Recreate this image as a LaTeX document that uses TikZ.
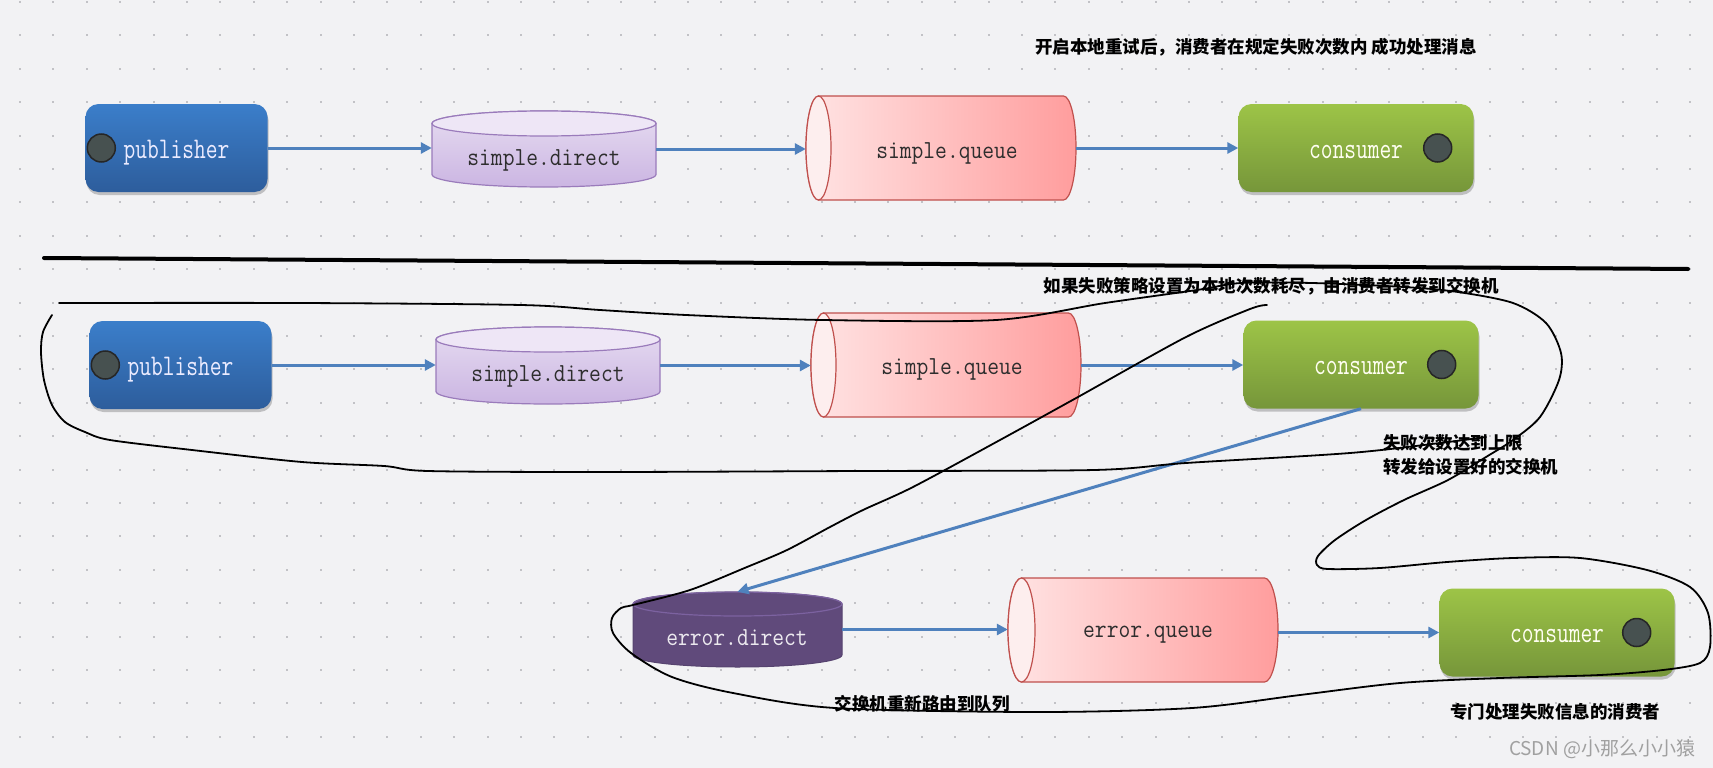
\documentclass[tikz,border=0pt]{standalone}
\usepackage{fontspec}
\usepackage{graphicx}
\newfontfamily\cjk{Noto Sans CJK SC}
\usetikzlibrary{arrows.meta,shadows}
\definecolor{bg}{HTML}{F2F2F4}
\definecolor{dotc}{HTML}{C2C2C6}
\definecolor{pubtop}{HTML}{3B7ECA}
\definecolor{pubbot}{HTML}{2D5D9C}
\definecolor{contop}{HTML}{9DC447}
\definecolor{conbot}{HTML}{76963A}
\definecolor{knobfill}{HTML}{475150}
\definecolor{flowc}{HTML}{4F81BD}
\definecolor{lavtopc}{HTML}{EEE6F6}
\definecolor{lavup}{HTML}{E6DCF1}
\definecolor{lavdown}{HTML}{CBB5E2}
\definecolor{lavedge}{HTML}{9A7BBB}
\definecolor{purc}{HTML}{604A7B}
\definecolor{puredge}{HTML}{7C62A0}
\definecolor{qleft}{HTML}{FFE4E4}
\definecolor{qright}{HTML}{FF9D9D}
\definecolor{qfacec}{HTML}{FDEEEE}
\definecolor{qedge}{HTML}{C0504D}
\definecolor{darktxt}{HTML}{2E2E2E}
\definecolor{wmgray}{HTML}{A0A0A0}

\newcommand\vcylshape[7]{%
  \path[#6] ({#1},{#3+#5}) -- ({#1},{#4-#5})
     arc[start angle=180,end angle=0,x radius={(#2-#1)/2},y radius=#5]
     -- ({#2},{#3+#5})
     arc[start angle=0,end angle=-180,x radius={(#2-#1)/2},y radius=#5] -- cycle;
  \path[#7] ({(#1+#2)/2},{#3+#5}) ellipse[x radius={(#2-#1)/2},y radius=#5];
}
\newcommand\hcylshape[7]{%
  \path[#6] ({#1+#5},{#3}) -- ({#2-#5},{#3})
     arc[start angle=-90,end angle=90,x radius=#5,y radius={(#4-#3)/2}]
     -- ({#1+#5},{#4})
     arc[start angle=90,end angle=270,x radius=#5,y radius={(#4-#3)/2}] -- cycle;
  \path[#7] ({#1+#5},{(#3+#4)/2}) ellipse[x radius=#5,y radius={(#4-#3)/2}];
}

\begin{document}
\begin{tikzpicture}[x=1pt,y=-1pt,
  box/.style={rounded corners=13pt, minimum height=88pt, inner sep=0pt,
    text height=24pt, text depth=4pt,
    drop shadow={shadow xshift=1pt, shadow yshift=-3pt, opacity=.3, fill=black!70},
    font=\fontsize{30}{30}\selectfont\ttfamily},
  pubbox/.style={box, minimum width=182pt, top color=pubtop, bottom color=pubbot, text=white!92!blue},
  conbox/.style={box, minimum width=235pt, top color=contop, bottom color=conbot, text=white!95!yellow},
  knob/.style={circle, minimum size=28pt, inner sep=0pt, fill=knobfill, draw=black!85, line width=1.5pt},
  flow/.style={draw=flowc, line width=3pt, -{Triangle[length=11pt,width=11pt]}},
  frame/.style 2 args={minimum width=#1pt, minimum height=#2pt, inner sep=0pt},
  darklbl/.style={inner sep=0pt, text=darktxt, font=\fontsize{26}{26}\selectfont\ttfamily},
  lightlbl/.style={inner sep=0pt, text=white!88!purc, font=\fontsize{26}{26}\selectfont\ttfamily},
  cn/.style={inner sep=0pt, font=\cjk\bfseries\fontsize{17.5}{21}\selectfont},
  wm/.style={inner sep=0pt, text=wmgray, font=\cjk\fontsize{19}{22}\selectfont},
  ink/.style={line width=1.8pt, black, line cap=round, line join=round},
  lavbody/.style={top color=lavup, bottom color=lavdown, draw=lavedge, line width=1.2pt},
  lavtop/.style={fill=lavtopc, draw=lavedge, line width=1.2pt},
  purbody/.style={fill=purc, draw=purc!90!black, line width=1pt},
  purtop/.style={fill=purc, draw=puredge, line width=1.2pt},
  qbody/.style={left color=qleft, right color=qright, draw=qedge, line width=1.2pt},
  qface/.style={fill=qfacec, draw=qedge, line width=1.2pt}
]
\useasboundingbox (0,0) rectangle (1713,768);
\fill[bg] (0,0) rectangle (1713,768);
\foreach \i in {0,...,51}{\foreach \j in {0,...,22}{\fill[dotc] ({19+33.4*\i},{1+33.4*\j}) rectangle ++(2,2);}}

% ---------- top row ----------
\node[pubbox] (p1) at (176.5,148) {\scalebox{0.76}[1]{publisher}};
\node[knob] (p1k) at ([xshift=16pt]p1.west) {};
\vcylshape{432}{656}{111}{187}{12.5}{lavbody}{lavtop}
\node[frame={224}{76}] (sd1) at (544,149) {};
\node[darklbl] (sd1t) at (544,160) {\scalebox{0.88}[1]{simple.direct}};
\hcylshape{806}{1076}{96}{200}{12.5}{qbody}{qface}
\node[frame={270}{104}] (sq1) at (941,148) {};
\node[darklbl] (sq1t) at (947,153) {\scalebox{0.88}[1]{simple.queue}};
\node[conbox] (c1) at (1356,148) {\scalebox{0.76}[1]{consumer}};
\node[knob] (c1k) at ([xshift=-36pt]c1.east) {};
\draw[flow] (p1.east) -- (p1.east -| sd1.west);
\draw[flow] (sd1.east) -- (sd1.east -| sq1.west);
\draw[flow] (sq1.east) -- (sq1.east -| c1.west);
\node[cn] (t1) at (1256,47) {开启本地重试后，消费者在规定失败次数内 成功处理消息};

% divider
\coordinate (dl) at (44,258);
\coordinate (dr) at (1688,269);
\draw[line width=4pt, line cap=round] (dl) -- (dr);

% ---------- middle row ----------
\node[pubbox] (p2) at (180.5,365) {\scalebox{0.76}[1]{publisher}};
\node[knob] (p2k) at ([xshift=16pt]p2.west) {};
\vcylshape{436}{660}{327}{404}{12.5}{lavbody}{lavtop}
\node[frame={224}{77}] (sd2) at (548,365.5) {};
\node[darklbl] (sd2t) at (548,376) {\scalebox{0.88}[1]{simple.direct}};
\hcylshape{811}{1081}{313}{417}{12.5}{qbody}{qface}
\node[frame={270}{104}] (sq2) at (946,365) {};
\node[darklbl] (sq2t) at (952,369) {\scalebox{0.88}[1]{simple.queue}};
\node[conbox] (c2) at (1361,364.5) {\scalebox{0.76}[1]{consumer}};
\node[knob] (c2k) at ([xshift=-37pt]c2.east) {};
\draw[flow] (p2.east) -- (p2.east -| sd2.west);
\draw[flow] (sd2.east) -- (sd2.east -| sq2.west);
\draw[flow] (sq2.east) -- (sq2.east -| c2.west);
\node[cn] (t2) at (1271,286) {如果失败策略设置为本地次数耗尽，由消费者转发到交换机};
\node[cn, anchor=west] (t3) at (1383,443) {失败次数达到上限};
\node[cn, anchor=west] (t4) at (1383,467) {转发给设置好的交换机};

% ---------- bottom row ----------
\vcylshape{633}{842}{592}{667}{12}{purbody}{purtop}
\node[frame={209}{75}] (ed) at (737.5,629.5) {};
\node[lightlbl] (edt) at (737,638) {\scalebox{0.88}[1]{error.direct}};
\hcylshape{1008}{1278}{578}{682}{13.5}{qbody}{qface}
\node[frame={270}{104}] (eq) at (1143,630) {};
\node[darklbl] (eqt) at (1148,635) {\scalebox{0.88}[1]{error.queue}};
\node[conbox] (c3) at (1557,632.5) {\scalebox{0.76}[1]{consumer}};
\node[knob] (c3k) at ([xshift=-38pt]c3.east) {};
\draw[flow] (c2.south) -- (ed.north);
\draw[flow] (ed.east) -- (ed.east -| eq.west);
\draw[flow] (c3.west -| eq.east) -- (c3.west);
\node[cn] (t5) at (922,704) {交换机重新路由到队列};
\node[cn] (t6) at (1555,712) {专门处理失败信息的消费者};
\node[wm] (wm) at (1602,749) {CSDN @小那么小小猿};

% ---------- freehand ink ----------
\draw[ink] plot[smooth, tension=0.5] coordinates {
 (59,303) (300,303) (521,305) (600,310) (686,315) (823,320) (996,320)
 (1105,303) (1197,290) (1241,283) (1312,283) (1404,287) (1458,292) (1513,303)
 (1546,323) (1561,353) (1559,380) (1540,417) (1513,440) (1486,457) (1448,480)
 (1404,500) (1366,520) (1335,540) (1318,556) (1317,565) (1328,569) (1380,568)
 (1447,562) (1513,558) (1580,558) (1647,570) (1690,587) (1708,613) (1710,647)
 (1700,663) (1663,670) (1600,675) (1500,678) (1400,683) (1300,695) (1192,708)
 (1039,712) (835,708) (733,693) (672,677) (631,653) (613,633) (612,618)
 (621,608) (633,605) (690,590) (747,567) (787,550) (830,527) (863,510)
 (913,487) (1000,440) (1078,397) (1186,337) (1250,309) (1267,305)};
\draw[ink] plot[smooth, tension=0.5] coordinates {
 (52,315) (43,332) (41,352) (44,380) (52,405) (65,422) (85,432) (110,440)
 (192,450) (302,462) (384,466) (428,471) (600,472) (860,471) (1094,470)
 (1186,463) (1350,453) (1448,442) (1486,437)};
\end{tikzpicture}
\end{document}
